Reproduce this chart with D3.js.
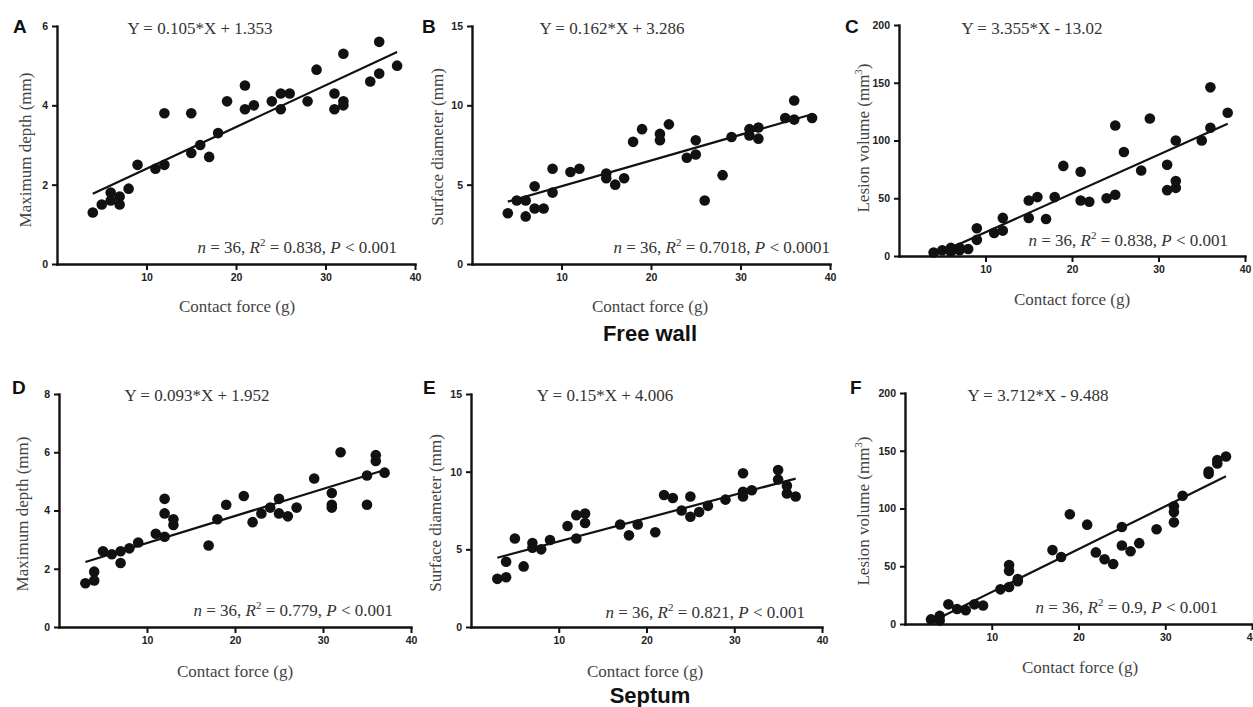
<!DOCTYPE html>
<html>
<head>
<meta charset="utf-8">
<script src="https://cdn.jsdelivr.net/npm/d3@7"></script>
<style>
   body { margin:0; background:#fff; }
   svg { display:block; }
</style>
</head>
<body>
<div id="chart"></div>
<script>
// contact force vs lesion size, free wall (A-C) and septum (D-F)

// A: free wall, maximum depth
var forceA = [4,5,6,6,7,7,8,9,11,12,12,15,15,16,17,18,19,21,21,22,24,25,25,26,28,29,31,31,32,32,32,35,36,36,38];
var depthA = [1.3,1.5,1.8,1.6,1.7,1.5,1.9,2.5,2.4,2.5,3.8,3.8,2.8,3.0,2.7,3.3,4.1,4.5,3.9,4.0,4.1,4.3,3.9,4.3,4.1,4.9,4.3,3.9,5.3,4.1,4.0,4.6,5.6,4.8,5.0];
// B: free wall, surface diameter
var forceB = [4,5,6,6,7,7,8,9,9,11,12,15,15,16,17,18,19,21,21,22,24,25,25,26,28,29,31,31,32,32,35,36,36,38];
var diamB  = [3.2,4.0,4.0,3.0,4.9,3.5,3.5,6.0,4.5,5.8,6.0,5.7,5.4,5.0,5.4,7.7,8.5,8.2,7.8,8.8,6.7,7.8,6.9,4.0,5.6,8.0,8.5,8.1,8.6,7.9,9.2,10.3,9.1,9.2];
// C: free wall, lesion volume
var forceC = [4,5,6,6,7,7,8,9,9,11,12,12,15,15,16,17,18,19,21,21,22,24,25,25,26,28,29,31,31,32,32,32,35,36,36,38];
var volC   = [3,5,7,4,7,5,6,24,14,20,33,22,48,33,51,32,51,78,73,48,47,50,53,113,90,74,119,79,57,65,59,100,100,111,146,124];
// D: septum, maximum depth
var forceD = [3,4,4,5,6,7,7,8,9,11,12,12,12,13,13,17,18,19,21,22,23,24,25,25,26,27,29,31,31,31,32,35,35,36,36,37];
var depthD = [1.5,1.9,1.6,2.6,2.5,2.6,2.2,2.7,2.9,3.2,4.4,3.9,3.1,3.7,3.5,2.8,3.7,4.2,4.5,3.6,3.9,4.1,4.4,3.9,3.8,4.1,5.1,4.6,4.2,4.1,6.0,5.2,4.2,5.9,5.7,5.3];
// E: septum, surface diameter
var forceE = [3,4,4,5,6,7,7,8,9,11,12,12,13,13,17,18,19,21,22,23,24,25,25,26,27,29,31,31,31,32,35,35,36,36,37];
var diamE  = [3.1,3.2,4.2,5.7,3.9,5.4,5.1,5.0,5.6,6.5,7.2,5.7,7.3,6.7,6.6,5.9,6.6,6.1,8.5,8.3,7.5,8.4,7.1,7.4,7.8,8.2,9.9,8.7,8.4,8.8,10.1,9.5,9.1,8.6,8.4];
// F: septum, lesion volume
var forceF = [3,4,4,5,6,7,8,9,11,12,12,12,13,13,17,18,19,21,22,23,24,25,25,26,27,29,31,31,31,32,35,35,36,36,37];
var volF   = [4,7,3,17,13,12,17,16,30,51,46,32,37,39,64,58,95,86,62,56,52,84,68,63,70,82,102,97,88,111,130,132,139,142,145];

// fits and labels
var slopes     = [0.105,0.162,3.355,0.093,0.15,3.712];
var intercepts = [1.353,3.286,-13.02,1.952,4.006,-9.488];
var equations  = ["Y = 0.105*X + 1.353","Y = 0.162*X + 3.286","Y = 3.355*X - 13.02",
                  "Y = 0.093*X + 1.952","Y = 0.15*X + 4.006","Y = 3.712*X - 9.488"];
var r2Labels   = ["0.838","0.7018","0.838","0.779","0.821","0.9"];
var pLabels    = ["0.001","0.0001","0.001","0.001","0.001","0.001"];
var letters    = ["A","B","C","D","E","F"];
var yTitles    = ["Maximum depth (mm)","Surface diameter (mm)","Lesion volume (mm",
                  "Maximum depth (mm)","Surface diameter (mm)","Lesion volume (mm"];
var yMaxes     = [6,15,200,8,15,200];
var yTicksList = [[0,2,4,6],[0,5,10,15],[0,50,100,150,200],[0,2,4,6,8],[0,5,10,15],[0,50,100,150,200]];
var xTicks     = [10,20,30,40];
var xTitle     = "Contact force (g)";
var groupTitles = ["Free wall","Septum"];

var xs = [forceA,forceB,forceC,forceD,forceE,forceF];
var ys = [depthA,diamB,volC,depthD,diamE,volF];

// pixel layout of each panel
var boxes = [
   {l:57,  r:415,  t:26,  b:264, letter:[13,33],   eq:[200,34],   st:[397,253],  yt:[25,150],  xt:[237,312]},
   {l:472, r:830,  t:26,  b:264, letter:[422,33],  eq:[612,34],   st:[830,253],  yt:[437,147], xt:[650,312]},
   {l:899, r:1245, t:25,  b:256, letter:[845,33],  eq:[1032,34],  st:[1228,246], yt:[863,138], xt:[1072,305]},
   {l:59,  r:411,  t:394, b:627, letter:[12,394],  eq:[197,401],  st:[393,616],  yt:[22,514],  xt:[235,677]},
   {l:471, r:822,  t:394, b:627, letter:[423,394], eq:[605,401],  st:[805,618],  yt:[435,513], xt:[645,677]},
   {l:905, r:1252, t:393, b:624, letter:[850,394], eq:[1038,401], st:[1218,613], yt:[863,511], xt:[1080,673]}
];

var serif = "'Liberation Serif','Times New Roman',serif";
var sans  = "'Liberation Sans',Arial,sans-serif";

var svg = d3.select("#chart").append("svg")
   .attr("width",1253).attr("height",707);
svg.append("rect").attr("width",1253).attr("height",707).attr("fill","#fff");

function drawPanel(i) {
   var bx = boxes[i];
   var xScale = d3.scaleLinear().domain([0,40]).range([bx.l,bx.r]);
   var yScale = d3.scaleLinear().domain([0,yMaxes[i]]).range([bx.b,bx.t]);
   var g = svg.append("g").attr("class","panel-"+letters[i]);

   // axes
   var gx = g.append("g")
      .attr("transform","translate(0,"+bx.b+")")
      .call(d3.axisBottom(xScale).tickValues(xTicks).tickFormat(d3.format("d"))
         .tickSize(6).tickSizeOuter(0).tickPadding(4));
   var gy = g.append("g")
      .attr("transform","translate("+bx.l+",0)")
      .call(d3.axisLeft(yScale).tickValues(yTicksList[i]).tickFormat(d3.format("d"))
         .tickSize(5).tickSizeOuter(0).tickPadding(4));
   [gx,gy].forEach(function(ax){
      ax.select(".domain").attr("stroke","#111").attr("stroke-width",2.4).attr("stroke-linecap","square");
      ax.selectAll(".tick line").attr("stroke","#111").attr("stroke-width",2);
      ax.selectAll(".tick text")
         .attr("font-family",sans).attr("font-weight","bold")
         .attr("font-size",10.5).attr("fill","#222");
   });

   // fitted line over the data range
   var xmin = d3.min(xs[i]), xmax = d3.max(xs[i]);
   g.append("line")
      .attr("x1",xScale(xmin)).attr("y1",yScale(slopes[i]*xmin+intercepts[i]))
      .attr("x2",xScale(xmax)).attr("y2",yScale(slopes[i]*xmax+intercepts[i]))
      .attr("stroke","#111").attr("stroke-width",2.2);

   // points
   g.selectAll(".point").data(xs[i].map(function(x,k){ return {x:x, y:ys[i][k]}; }))
      .enter().append("circle").attr("class","point")
      .attr("cx",function(d){ return xScale(d.x); })
      .attr("cy",function(d){ return yScale(d.y); })
      .attr("r",5.3).attr("fill","#111");

   // panel letter
   g.append("text").attr("x",bx.letter[0]).attr("y",bx.letter[1])
      .attr("font-family",sans).attr("font-weight","bold").attr("font-size",19).attr("fill","#111")
      .text(letters[i]);

   // equation
   g.append("text").attr("x",bx.eq[0]).attr("y",bx.eq[1])
      .attr("text-anchor","middle")
      .attr("font-family",serif).attr("font-size",17).attr("fill","#333")
      .text(equations[i]);

   // stats
   var st = g.append("text").attr("x",bx.st[0]).attr("y",bx.st[1])
      .attr("text-anchor","end")
      .attr("font-family",serif).attr("font-size",17).attr("fill","#333");
   st.append("tspan").attr("font-style","italic").text("n");
   st.append("tspan").text(" = 36, ");
   st.append("tspan").attr("font-style","italic").text("R");
   st.append("tspan").attr("font-size",11).attr("dy",-7).text("2");
   st.append("tspan").attr("dy",7).text(" = "+r2Labels[i]+", ");
   st.append("tspan").attr("font-style","italic").text("P");
   st.append("tspan").text(" < "+pLabels[i]);

   // y title
   var yt = g.append("text")
      .attr("transform","translate("+bx.yt[0]+","+bx.yt[1]+") rotate(-90)")
      .attr("text-anchor","middle").attr("dy","0.35em")
      .attr("font-family",serif).attr("font-size",17).attr("fill","#444");
   yt.append("tspan").text(yTitles[i]);
   if (i == 2 || i == 5) {
      yt.append("tspan").attr("font-size",11).attr("dy",-7).text("3");
      yt.append("tspan").attr("dy",7).text(")");
   }

   // x title
   g.append("text").attr("x",bx.xt[0]).attr("y",bx.xt[1])
      .attr("text-anchor","middle")
      .attr("font-family",serif).attr("font-size",17).attr("fill","#444")
      .text(xTitle);
}

for (var i=0;i<6;i++) drawPanel(i);

// row titles
svg.append("text").attr("x",650).attr("y",341).attr("text-anchor","middle")
   .attr("font-family",sans).attr("font-weight","bold").attr("font-size",22).attr("fill","#111")
   .text(groupTitles[0]);
svg.append("text").attr("x",650).attr("y",703).attr("text-anchor","middle")
   .attr("font-family",sans).attr("font-weight","bold").attr("font-size",22).attr("fill","#111")
   .text(groupTitles[1]);
</script>
</body>
</html>
